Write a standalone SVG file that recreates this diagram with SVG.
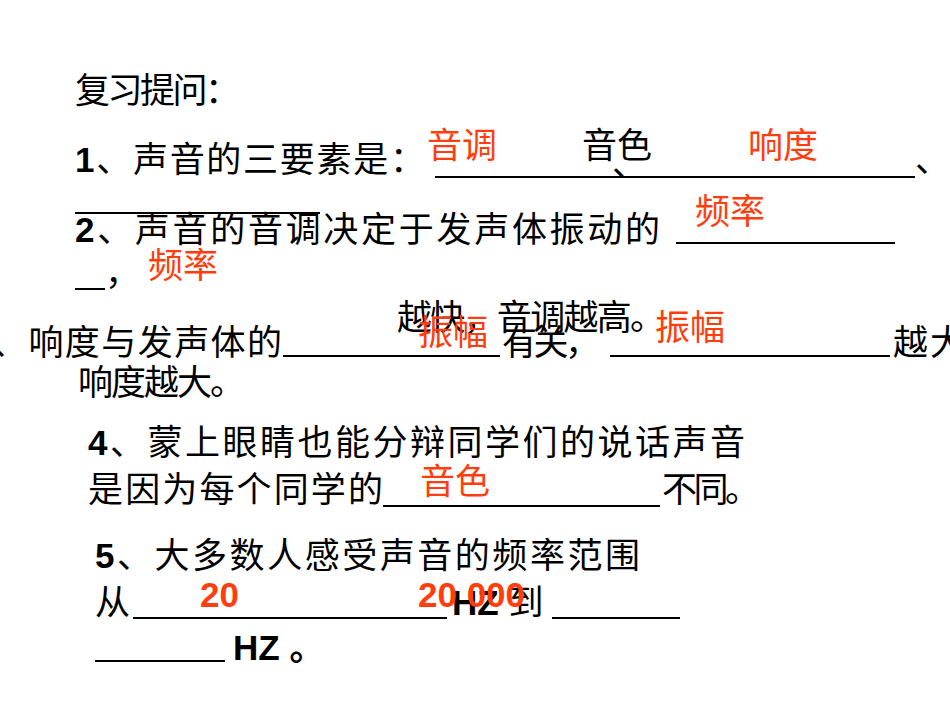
<svg xmlns="http://www.w3.org/2000/svg" width="950" height="713" viewBox="0 0 950 713">
<style>
text{font-family:"Liberation Sans","Noto Sans CJK SC",sans-serif;font-size:35px;fill:#000}
.r{fill:#FF3D0D;font-size:35px}
.b{font-weight:bold}
line{stroke:#000;stroke-width:2}
</style>
<rect width="950" height="713" fill="#fff"/>
<text x="75" y="103" textLength="165" lengthAdjust="spacing">复习提问：</text>
<text x="75" y="172" textLength="350" lengthAdjust="spacing"><tspan class="b">1</tspan>、声音的三要素是：</text>
<line x1="435" y1="177" x2="915" y2="177"/>
<text x="612" y="176">、</text>
<text x="915" y="172">、</text>
<text x="582" y="158">音色</text>
<text class="r" x="427" y="158">音调</text>
<text class="r" x="748" y="158">响度</text>
<text x="75" y="242" textLength="585" lengthAdjust="spacing"><tspan class="b">2</tspan>、声音的音调决定于发声体振动的</text>
<line x1="75" y1="213" x2="320" y2="213"/>
<line x1="676" y1="243" x2="895" y2="243"/>
<text class="r" x="695" y="224">频率</text>
<line x1="75" y1="289" x2="105" y2="289"/>
<text x="105" y="285">，</text>
<text class="r" x="148" y="278">频率</text>
<text x="397" y="330" textLength="268" lengthAdjust="spacing">越快，音调越高。</text>
<text x="-8" y="355" textLength="290" lengthAdjust="spacing">、响度与发声体的</text>
<line x1="283" y1="356" x2="500" y2="356"/>
<text x="502" y="355" textLength="98" lengthAdjust="spacing">有关，</text>
<line x1="610" y1="356" x2="890" y2="356"/>
<text x="893" y="355" textLength="72" lengthAdjust="spacing">越大</text>
<text class="r" x="418" y="345">振幅</text>
<text class="r" x="655" y="340">振幅</text>
<text x="78" y="395" textLength="167" lengthAdjust="spacing">响度越大。</text>
<text x="88" y="455" textLength="657" lengthAdjust="spacing"><tspan class="b">4</tspan>、蒙上眼睛也能分辩同学们的说话声音</text>
<text x="88" y="502" textLength="295" lengthAdjust="spacing">是因为每个同学的</text>
<line x1="383" y1="506" x2="660" y2="506"/>
<text x="662" y="502" textLength="98" lengthAdjust="spacing">不同。</text>
<text class="r" x="420" y="494">音色</text>
<text x="95" y="568" textLength="545" lengthAdjust="spacing"><tspan class="b">5</tspan>、大多数人感受声音的频率范围</text>
<text x="95" y="615">从</text>
<line x1="133" y1="618" x2="447" y2="618"/>
<text class="b" x="452" y="615">HZ <tspan font-weight="normal">到</tspan></text>
<line x1="552" y1="618" x2="680" y2="618"/>
<text class="r b" x="200" y="607">20</text>
<text class="r b" x="418" y="607">20 000</text>
<line x1="95" y1="661" x2="225" y2="661"/>
<text class="b" x="233" y="660">HZ 。</text>
</svg>
